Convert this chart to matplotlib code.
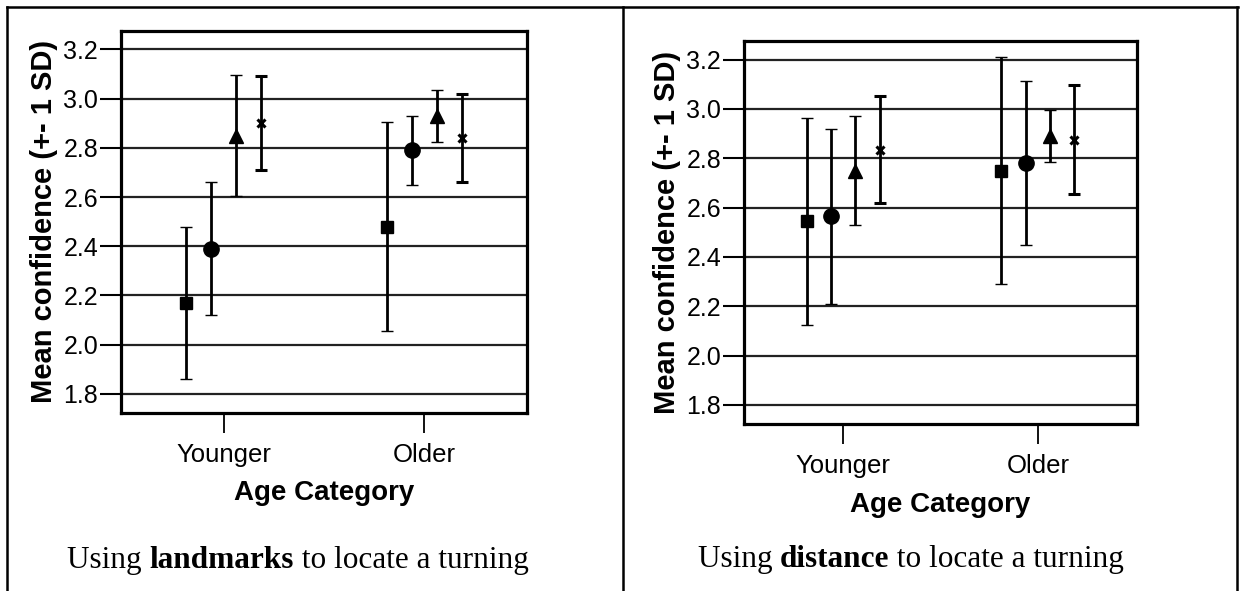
import matplotlib

matplotlib.use("Agg")
import matplotlib.pyplot as plt  # noqa: E402
from matplotlib.lines import Line2D  # noqa: E402

plt.rcParams["font.family"] = ["Liberation Sans", "DejaVu Sans"]

W, H = 1240, 591

categories = ["Younger", "Older"]
yticks = [1.8, 2.0, 2.2, 2.4, 2.6, 2.8, 3.0, 3.2]
markers = ["s", "o", "^", "x"]
offsets = [-0.1875, -0.0625, 0.0625, 0.1875]

# landmarks panel: series order square, circle, triangle, cross
lm_young_mean = [2.17, 2.39, 2.85, 2.90]
lm_young_sd = [0.31, 0.27, 0.245, 0.19]
lm_older_mean = [2.48, 2.79, 2.93, 2.84]
lm_older_sd = [0.425, 0.14, 0.105, 0.178]

# distance panel
di_young_mean = [2.545, 2.565, 2.75, 2.835]
di_young_sd = [0.42, 0.355, 0.222, 0.217]
di_older_mean = [2.75, 2.78, 2.89, 2.875]
di_older_sd = [0.459, 0.333, 0.104, 0.221]

MSIZE = {"s": 8.5, "o": 11, "^": 10.5, "x": 6}


def px_rect(x0, y0, x1, y1):
    return [x0 / W, 1 - y1 / H, (x1 - x0) / W, (y1 - y0) / H]


def panel(fig, rect, means, sds):
    ax = fig.add_axes(rect)
    for gi in range(len(categories)):
        for k, mk in enumerate(markers):
            ax.errorbar(gi + offsets[k], means[gi][k], yerr=sds[gi][k],
                        fmt=mk, color="black", ms=MSIZE[mk],
                        mew=2.2 if mk == "x" else 1, elinewidth=2,
                        capsize=4, capthick=2.2, zorder=3)
    ax.set_xlim(-0.51, 1.51)
    ax.set_ylim(1.723, 3.275)
    ax.set_yticks(yticks)
    ax.set_yticklabels([f"{v:.1f}" for v in yticks])
    ax.set_xticks(range(len(categories)))
    ax.set_xticklabels(categories)
    ax.grid(axis="y", color="#222222", lw=1.6)
    ax.set_axisbelow(True)
    for s in ax.spines.values():
        s.set_linewidth(2.3)
    ax.tick_params(axis="y", length=15, width=1.5, pad=1.5, labelsize=18)
    ax.tick_params(axis="x", length=14.5, width=1.3, pad=7, labelsize=18.5)
    ax.set_ylabel("Mean confidence (+- 1 SD)", fontsize=21, fontweight="bold",
                  labelpad=4)
    ax.set_xlabel("Age Category", fontsize=20, fontweight="bold", labelpad=10)
    return ax


def caption(fig, cx, base_y, parts):
    r = fig.canvas.get_renderer()
    texts, widths = [], []
    for s, bold in parts:
        t = fig.text(0, 1 - base_y / H, s, fontsize=22.5, va="baseline",
                     family=["Liberation Serif", "DejaVu Serif"],
                     fontweight="bold" if bold else "normal")
        texts.append(t)
    for t in texts:
        widths.append(t.get_window_extent(r).width)
    x = cx - sum(widths) / 2
    for t, w in zip(texts, widths):
        t.set_x(x / W)
        x += w


fig = plt.figure(figsize=(W / 100, H / 100), dpi=100)

panel(fig, px_rect(121, 31, 527, 412.7),
      [lm_young_mean, lm_older_mean], [lm_young_sd, lm_older_sd])
panel(fig, px_rect(744, 41, 1137, 424),
      [di_young_mean, di_older_mean], [di_young_sd, di_older_sd])

# table borders around the two cells
for xs, ys in [([7, 1238], [7, 7]), ([7, 7], [7, 591]),
               ([623, 623], [7, 591]), ([1237, 1237], [7, 591])]:
    fig.add_artist(Line2D([x / W for x in xs], [1 - y / H for y in ys],
                          color="black", lw=1.8, transform=fig.transFigure))

caption(fig, 298, 568, [("Using ", False), ("landmarks", True),
                        (" to locate a turning", False)])
caption(fig, 911, 567, [("Using ", False), ("distance", True),
                        (" to locate a turning", False)])

fig.savefig("out.png", dpi=100)
